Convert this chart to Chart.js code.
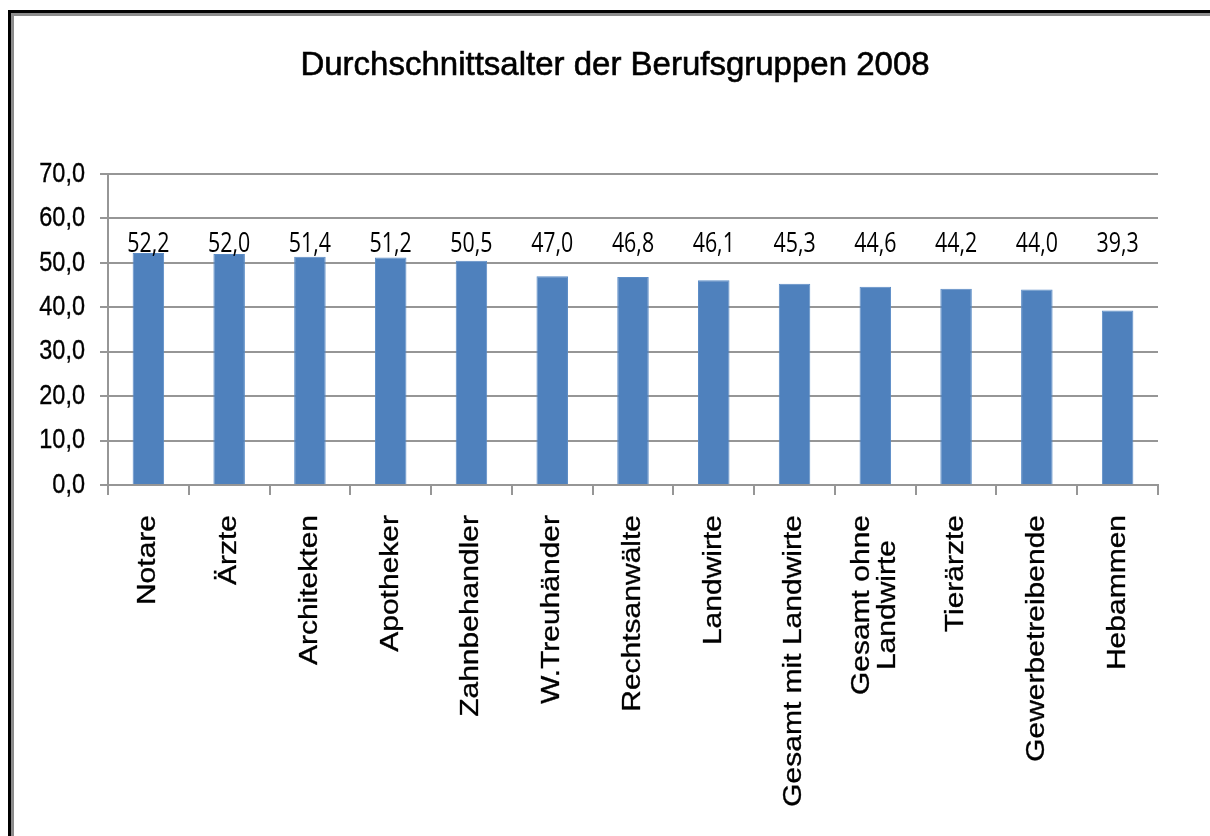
<!DOCTYPE html>
<html>
<head>
<meta charset="utf-8">
<script src="https://cdn.jsdelivr.net/npm/chart.js@4.4.1/dist/chart.umd.min.js"></script>
<style>
  html, body { margin: 0; padding: 0; background: #ffffff; overflow: hidden; }
  #wrap { position: relative; width: 1210px; height: 836px; }
  #frameOuter { position: absolute; left: 8px; top: 10px; width: 1300px; height: 900px;
    border-left: 3px solid #000; border-top: 3px solid #000; }
  #frameInner { position: absolute; left: 0; top: 0; width: 100%; height: 100%;
    border-left: 3px solid #8c8c8c; border-top: 3px solid #8c8c8c; box-sizing: border-box; }
  canvas { position: absolute; left: 0; top: 0; }
</style>
</head>
<body>
<div id="wrap">
  <div id="frameOuter"><div id="frameInner"></div></div>
  <canvas id="c" width="1210" height="836"></canvas>
</div>
<script>
const chartTitle = 'Durchschnittsalter der Berufsgruppen 2008';
const categories = [
  ['Notare'], ['Ärzte'], ['Architekten'], ['Apotheker'], ['Zahnbehandler'],
  ['W.Treuhänder'], ['Rechtsanwälte'], ['Landwirte'], ['Gesamt mit Landwirte'],
  ['Gesamt ohne', 'Landwirte'], ['Tierärzte'], ['Gewerbetreibende'], ['Hebammen']
];
const values = [52.2, 52.0, 51.4, 51.2, 50.5, 47.0, 46.8, 46.1, 45.3, 44.6, 44.2, 44.0, 39.3];
const yTickValues = [0, 10, 20, 30, 40, 50, 60, 70];
const yTickLabels = ['0,0', '10,0', '20,0', '30,0', '40,0', '50,0', '60,0', '70,0'];

const fmt = v => v.toFixed(1).replace('.', ',');
const gridColor = '#969696';
const ARIAL = '"Liberation Sans", Arial, sans-serif';

const titlePlugin = {
  id: 'titleText',
  afterDraw(chart) {
    const ctx = chart.ctx;
    ctx.save();
    ctx.font = '33px ' + ARIAL;
    ctx.fillStyle = '#000';
    ctx.strokeStyle = '#000';
    ctx.lineWidth = 0.6;
    ctx.textAlign = 'center';
    ctx.textBaseline = 'alphabetic';
    ctx.translate(615, 75);
    ctx.scale(1, 1.02);
    ctx.fillText(chartTitle, 0, 0);
    ctx.strokeText(chartTitle, 0, 0);
    ctx.restore();
  }
};

const yLabelsPlugin = {
  id: 'yLabels',
  afterDraw(chart) {
    const ctx = chart.ctx;
    const ys = chart.scales.y;
    ctx.save();
    ctx.font = '23.5px ' + ARIAL;
    ctx.fillStyle = '#000';
    ctx.strokeStyle = '#000';
    ctx.lineWidth = 0.3;
    ctx.textAlign = 'right';
    ctx.textBaseline = 'middle';
    yTickValues.forEach((v, i) => {
      ctx.save();
      ctx.translate(ys.right - 23, ys.getPixelForValue(v));
      ctx.scale(1, 1.2);
      ctx.fillText(yTickLabels[i], 0, 0);
      ctx.strokeText(yTickLabels[i], 0, 0);
      ctx.restore();
    });
    ctx.restore();
  }
};

const xLabelsPlugin = {
  id: 'xLabels',
  afterDraw(chart) {
    const ctx = chart.ctx;
    const xs = chart.scales.x;
    const fontSize = 25, stretch = 1.2, lineGap = 26;
    ctx.save();
    ctx.font = fontSize + 'px ' + ARIAL;
    ctx.fillStyle = '#000';
    ctx.strokeStyle = '#000';
    ctx.lineWidth = 0.3;
    ctx.textBaseline = 'middle';
    ctx.textAlign = 'center';
    categories.forEach((lines, i) => {
      const x = xs.getPixelForValue(i);
      const yTop = xs.top + 30;
      const w = Math.max(...lines.map(l => ctx.measureText(l).width));
      ctx.save();
      ctx.translate(x, yTop);
      ctx.rotate(-Math.PI / 2);
      ctx.scale(stretch, 1);
      lines.forEach((l, k) => {
        const off = (k - (lines.length - 1) / 2) * lineGap;
        ctx.fillText(l, -w / 2, off);
        ctx.strokeText(l, -w / 2, off);
      });
      ctx.restore();
    });
    ctx.restore();
  }
};

const dataLabelsPlugin = {
  id: 'dataLabels',
  afterDatasetsDraw(chart) {
    const ctx = chart.ctx;
    const meta = chart.getDatasetMeta(0);
    const ys = chart.scales.y;
    const baseY = ys.getPixelForValue(52.5);
    ctx.save();
    ctx.font = '22.5px "Open Sans", "Noto Sans", sans-serif';
    ctx.fillStyle = '#000';
    ctx.textAlign = 'center';
    ctx.textBaseline = 'alphabetic';
    meta.data.forEach((bar, i) => {
      ctx.save();
      ctx.translate(bar.x, baseY);
      ctx.scale(0.95, 1.22);
      ctx.fillText(fmt(values[i]), 0, 0);
      ctx.restore();
    });
    ctx.restore();
  }
};

new Chart(document.getElementById('c'), {
  type: 'bar',
  data: {
    labels: categories.map(c => c.join(' ')),
    datasets: [{
      data: values,
      backgroundColor: '#4F81BD',
      borderColor: '#5b8cc6',
      borderWidth: 1,
      categoryPercentage: 1.0,
      barPercentage: 0.39
    }]
  },
  options: {
    responsive: false,
    animation: false,
    devicePixelRatio: 1,
    layout: { padding: { left: 0, right: 52, top: 174, bottom: 0 } },
    plugins: {
      legend: { display: false },
      tooltip: { enabled: false },
      title: { display: false }
    },
    scales: {
      x: {
        grid: { display: true, drawOnChartArea: false, drawTicks: true, tickLength: 10, color: gridColor, lineWidth: 2, offset: true },
        border: { display: true, color: gridColor, width: 2 },
        ticks: { display: false, autoSkip: false },
        afterFit(scale) { scale.height = 351; }
      },
      y: {
        min: 0, max: 70,
        grid: { color: gridColor, lineWidth: 2, tickLength: 8 },
        border: { display: true, color: gridColor, width: 2 },
        ticks: { display: false, stepSize: 10 },
        afterFit(scale) { scale.width = 108; }
      }
    }
  },
  plugins: [titlePlugin, yLabelsPlugin, xLabelsPlugin, dataLabelsPlugin]
});
</script>
</body>
</html>
